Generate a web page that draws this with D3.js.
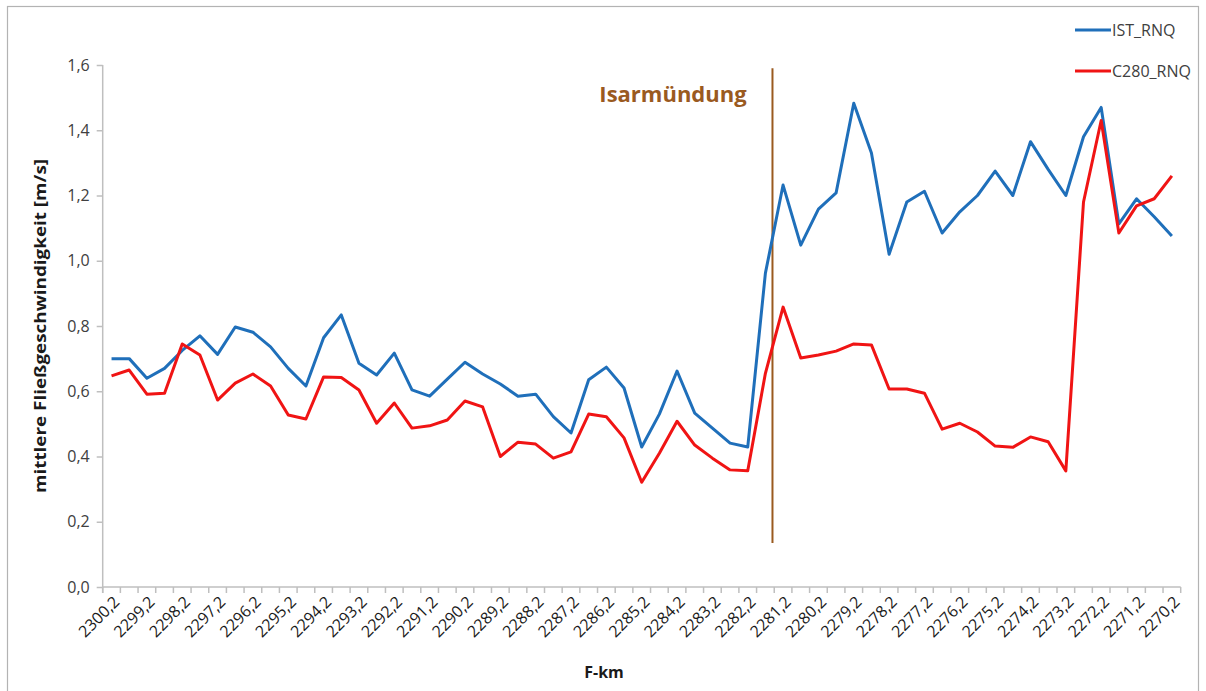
<!DOCTYPE html>
<html>
<head>
<meta charset="utf-8">
<script src="https://cdn.jsdelivr.net/npm/d3@7"></script>
<style>
  body { margin: 0; background: #fff; }
  svg { display: block; font-family: "Open Sans", "DejaVu Sans", sans-serif; }
</style>
</head>
<body>
<svg id="chart" width="1206" height="691"></svg>
<script>

// F-km categories, every 0.5 km
let km = [2300.2, 2299.7, 2299.2, 2298.7, 2298.2, 2297.7, 2297.2, 2296.7, 2296.2, 2295.7,
          2295.2, 2294.7, 2294.2, 2293.7, 2293.2, 2292.7, 2292.2, 2291.7, 2291.2, 2290.7,
          2290.2, 2289.7, 2289.2, 2288.7, 2288.2, 2287.7, 2287.2, 2286.7, 2286.2, 2285.7,
          2285.2, 2284.7, 2284.2, 2283.7, 2283.2, 2282.7, 2282.2, 2281.7, 2281.2, 2280.7,
          2280.2, 2279.7, 2279.2, 2278.7, 2278.2, 2277.7, 2277.2, 2276.7, 2276.2, 2275.7,
          2275.2, 2274.7, 2274.2, 2273.7, 2273.2, 2272.7, 2272.2, 2271.7, 2271.2, 2270.7,
          2270.2]

let istRnq = [0.70, 0.70, 0.64, 0.67, 0.725, 0.77, 0.713, 0.797, 0.781, 0.736,
              0.67, 0.616, 0.764, 0.834, 0.686, 0.65, 0.717, 0.604, 0.585, 0.637,
              0.689, 0.653, 0.622, 0.585, 0.591, 0.522, 0.472, 0.635, 0.674, 0.61,
              0.429, 0.53, 0.662, 0.533, 0.487, 0.441, 0.429, 0.962, 1.232, 1.048,
              1.158, 1.208, 1.483, 1.33, 1.02, 1.18, 1.213, 1.085, 1.15, 1.20,
              1.275, 1.20, 1.365, 1.28, 1.20, 1.38, 1.47, 1.113, 1.19, 1.135,
              1.076]

let c280Rnq = [0.647, 0.665, 0.591, 0.594, 0.745, 0.711, 0.573, 0.625, 0.653, 0.616,
               0.527, 0.515, 0.644, 0.642, 0.604, 0.502, 0.564, 0.487, 0.494, 0.512,
               0.57, 0.552, 0.40, 0.444, 0.438, 0.395, 0.414, 0.53, 0.522, 0.457,
               0.321, 0.41, 0.508, 0.435, 0.395, 0.359, 0.356, 0.655, 0.858, 0.702,
               0.711, 0.723, 0.745, 0.742, 0.607, 0.607, 0.594, 0.484, 0.502, 0.475,
               0.432, 0.428, 0.46, 0.445, 0.356, 1.18, 1.43, 1.085, 1.168, 1.19,
               1.26]

let yTicks = [0, 0.2, 0.4, 0.6, 0.8, 1.0, 1.2, 1.4, 1.6]
let labelKm = km.filter((k, i) => i % 2 === 0)

let series = [
    { name: "IST_RNQ", values: istRnq, color: "#1f6fba" },
    { name: "C280_RNQ", values: c280Rnq, color: "#f01414" }
]

// Isar mouth marker
let marker = { km: 2281.5, label: "Isarmündung", top: 1.59, bottom: 0.135 }

let fmt = (k) => d3.format(".1f")(k).replace(".", ",")

let svg = d3.select("#chart")
let axisColor = "#bfbfbf"
let textColor = "#404040"

// outer frame
svg.append("rect")
    .attr("x", 7.5).attr("y", 6.5)
    .attr("width", 1191).attr("height", 700)
    .attr("fill", "none")
    .attr("stroke", "#b3b3b3")
    .attr("stroke-width", 1.2)

let x = d3.scaleBand()
    .domain(km.map(fmt))
    .range([102.7, 1180.7])
    .padding(0)

let y = d3.scaleLinear()
    .domain([0, 1.6])
    .range([587, 65])

let cx = (k) => x(fmt(k)) + x.bandwidth() / 2

let kmScale = d3.scaleLinear()
    .domain([km[0], km[km.length - 1]])
    .range([cx(km[0]), cx(km[km.length - 1])])

// y axis
let yAxis = svg.append("g")
    .attr("transform", "translate(102.7,0)")
    .call(d3.axisLeft(y).tickValues(yTicks).tickSize(6).tickPadding(7).tickFormat(fmt))
yAxis.selectAll("path, line").attr("stroke", axisColor).attr("stroke-width", 1.5)
yAxis.select(".domain").attr("d", "M0," + y(1.6) + "V" + (y(0) + 6))
yAxis.selectAll("text")
    .attr("fill", textColor)
    .style("font-size", "16px")
    .style("font-family", "'Open Sans', sans-serif")

// x axis line + ticks between categories
let xg = svg.append("g")
xg.append("line")
    .attr("x1", x.range()[0]).attr("x2", x.range()[1])
    .attr("y1", y(0)).attr("y2", y(0))
    .attr("stroke", axisColor).attr("stroke-width", 1.5)
xg.selectAll("line.tick")
    .data(km.concat([null]))
    .enter().append("line")
    .attr("class", "tick")
    .attr("x1", (d, i) => x.range()[0] + i * x.bandwidth())
    .attr("x2", (d, i) => x.range()[0] + i * x.bandwidth())
    .attr("y1", y(0)).attr("y2", y(0) + 6)
    .attr("stroke", axisColor).attr("stroke-width", 1.5)

// x labels, rotated
xg.selectAll("text.lab")
    .data(labelKm)
    .enter().append("text")
    .attr("class", "lab")
    .attr("transform", (d) => "translate(" + (cx(d) + 5) + "," + (y(0) + 12) + ") rotate(-45)")
    .attr("text-anchor", "end")
    .attr("dy", "0.35em")
    .attr("fill", "#1a1a1a")
    .style("font-size", "16px")
    .text((d) => fmt(d))

// axis titles
svg.append("text")
    .attr("transform", "translate(40," + (y(0.8)) + ") rotate(-90)")
    .attr("text-anchor", "middle")
    .attr("dy", "0.35em")
    .attr("fill", "#1a1a1a")
    .attr("textLength", 334)
    .attr("lengthAdjust", "spacingAndGlyphs")
    .style("font-size", "16px")
    .style("font-weight", "bold")
    .text("mittlere Fließgeschwindigkeit [m/s]")

svg.append("text")
    .attr("x", 604).attr("y", 678)
    .attr("text-anchor", "middle")
    .attr("fill", "#1a1a1a")
    .style("font-size", "16px")
    .style("font-weight", "bold")
    .text("F-km")

// marker line + label
svg.append("line")
    .attr("x1", kmScale(marker.km)).attr("x2", kmScale(marker.km))
    .attr("y1", y(marker.top)).attr("y2", y(marker.bottom))
    .attr("stroke", "#9a5a1f")
    .attr("stroke-width", 2)

svg.append("text")
    .attr("x", 673).attr("y", 102)
    .attr("text-anchor", "middle")
    .attr("fill", "#9a5a1f")
    .style("font-size", "22px")
    .style("font-weight", "bold")
    .text(marker.label)

// data lines
let line = d3.line()
    .x((d, i) => cx(km[i]))
    .y((d) => y(d))

svg.selectAll("path.series")
    .data(series)
    .enter().append("path")
    .attr("class", "series")
    .attr("d", (s) => line(s.values))
    .attr("fill", "none")
    .attr("stroke", (s) => s.color)
    .attr("stroke-width", 3)
    .attr("stroke-linejoin", "round")

// legend
let legend = svg.append("g")
    .selectAll("g")
    .data(series)
    .enter().append("g")
    .attr("transform", (d, i) => "translate(1075," + (30 + i * 41) + ")")
legend.append("line")
    .attr("x1", 0).attr("x2", 36)
    .attr("stroke", (d) => d.color)
    .attr("stroke-width", 3)
legend.append("text")
    .attr("x", 37).attr("dy", "0.35em")
    .attr("fill", textColor)
    .style("font-size", "16px")
    .text((d) => d.name)

</script>
</body>
</html>
